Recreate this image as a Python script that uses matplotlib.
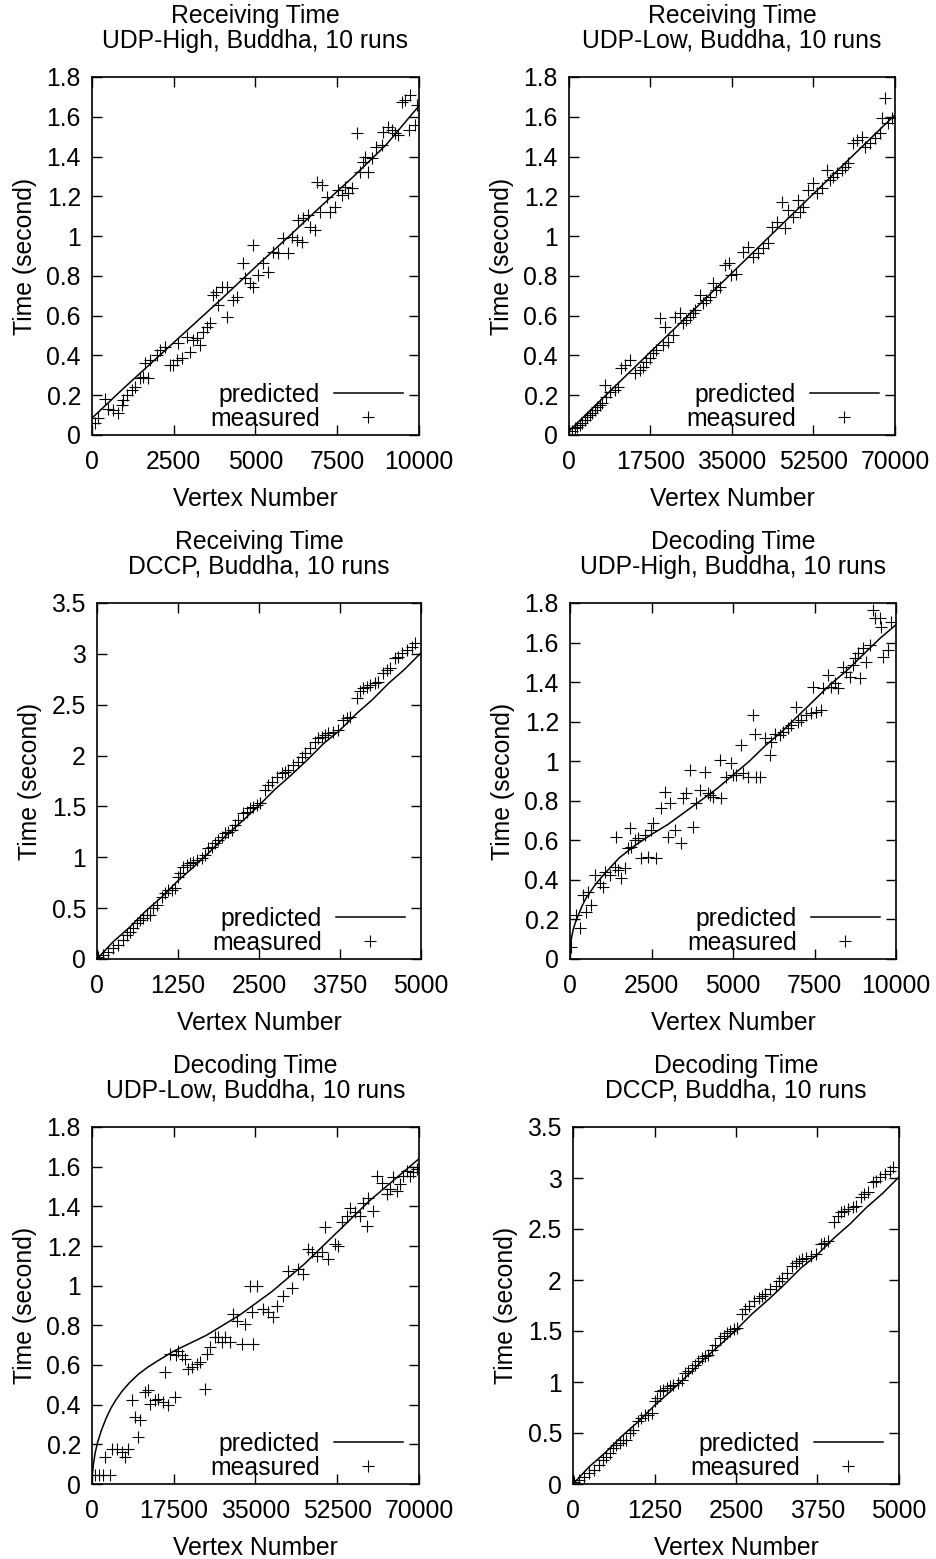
import matplotlib
matplotlib.use('Agg')
import matplotlib.pyplot as plt
import matplotlib.ticker as ticker
import numpy as np

plt.rcParams['font.family'] = ['Liberation Sans', 'DejaVu Sans']
FS = 17.8

# ---- Receiving time, UDP-High ----
recvHighX = [92, 193, 398, 500, 652, 805, 907, 958, 1060, 1213, 1315, 1468, 1570, 1621, 1723,
             1774, 1977, 2079, 2232, 2385, 2487, 2610, 2640, 2742, 2895, 2997, 3099, 3201, 3303,
             3405, 3507, 3609, 3711, 3793, 3864, 3966, 4119, 4139, 4323, 4425, 4629, 4680, 4833,
             4914, 4934, 5086, 5239, 5392, 5545, 5698, 5851, 6004, 6106, 6259, 6310, 6412, 6463,
             6616, 6667, 6820, 6871, 6973, 7024, 7177, 7279, 7432, 7534, 7636, 7738, 7840, 7942,
             8095, 8197, 8299, 8350, 8452, 8554, 8686, 8859, 8910, 9063, 9165, 9267, 9369, 9471,
             9573, 9706, 9726, 9879, 9930]
recvHighY = [0.059, 0.084, 0.18, 0.13, 0.126, 0.109, 0.150, 0.176, 0.201, 0.226, 0.243, 0.285,
             0.293, 0.360, 0.285, 0.377, 0.402, 0.427, 0.444, 0.352, 0.352, 0.377, 0.461, 0.385,
             0.494, 0.419, 0.477, 0.486, 0.452, 0.519, 0.545, 0.561, 0.704, 0.720, 0.653, 0.745,
             0.595, 0.745, 0.678, 0.695, 0.863, 0.788, 0.763, 0.955, 0.746, 0.804, 0.863, 0.821,
             0.922, 0.913, 0.989, 0.913, 0.997, 0.98, 1.081, 0.972, 1.089, 1.106, 1.047, 1.031,
             1.274, 1.123, 1.257, 1.198, 1.123, 1.148, 1.232, 1.207, 1.249, 1.215, 1.240, 1.517,
             1.324, 1.374, 1.399, 1.324, 1.391, 1.450, 1.458, 1.525, 1.55, 1.533, 1.517, 1.508,
             1.676, 1.684, 1.533, 1.709, 1.558, 1.66]
recvHighPredX = [0, 1000, 2000, 3000, 4000, 5000, 6000, 7000, 8000, 9000, 10000]
recvHighPredY = [0.085, 0.24, 0.39, 0.54, 0.69, 0.845, 0.995, 1.15, 1.30, 1.46, 1.655]

# ---- Receiving time, UDP-Low ----
recvLowX = [600, 1217, 1700, 2290, 2800, 3363, 3900, 4437, 5000, 5510, 6000, 6584, 7100, 7657,
            8016, 8731, 9805, 10520, 11237, 11950, 13030, 14100, 15170, 15890, 16600, 17320,
            18040, 18750, 19470, 20180, 20540, 21260, 22330, 22690, 23760, 24480, 25190, 25910,
            26620, 26980, 28050, 28770, 29480, 30200, 30910, 31630, 32350, 33420, 34280, 34850,
            35930, 37440, 38510, 39580, 40660, 41730, 42810, 43520, 44590, 45670, 46380, 47100,
            48170, 49240, 49600, 50320, 51390, 52460, 53180, 54250, 55330, 56040, 56760, 57480,
            58550, 59270, 59980, 61060, 61770, 62850, 63560, 64640, 65710, 66780, 67140, 67860,
            68570, 69290]
recvLowY = [0.02, 0.034, 0.04, 0.050, 0.06, 0.075, 0.09, 0.101, 0.11, 0.126, 0.14, 0.151, 0.16,
            0.251, 0.193, 0.218, 0.226, 0.243, 0.335, 0.352, 0.377, 0.310, 0.327, 0.344, 0.369,
            0.385, 0.41, 0.427, 0.587, 0.452, 0.545, 0.469, 0.503, 0.595, 0.612, 0.562, 0.578,
            0.595, 0.612, 0.628, 0.704, 0.662, 0.678, 0.695, 0.762, 0.729, 0.745, 0.855, 0.863,
            0.804, 0.812, 0.922, 0.947, 0.896, 0.913, 0.938, 0.963, 1.047, 1.072, 1.173, 1.04,
            1.131, 1.098, 1.182, 1.123, 1.148, 1.232, 1.265, 1.215, 1.240, 1.332, 1.282, 1.299,
            1.316, 1.332, 1.349, 1.366, 1.466, 1.483, 1.500, 1.450, 1.466, 1.492, 1.517, 1.592,
            1.693, 1.567, 1.592]
recvLowPredX = [0, 17500, 35000, 52500, 70000]
recvLowPredY = [0.02, 0.418, 0.815, 1.213, 1.61]

# ---- DCCP (receiving and decoding look the same) ----
dccpX = [21, 98, 175, 252, 329, 406, 458, 509, 561, 612, 664, 715, 766, 818, 869, 921, 998,
         1049, 1101, 1152, 1204, 1255, 1281, 1332, 1384, 1435, 1486, 1538, 1615, 1667, 1718,
         1769, 1821, 1872, 1924, 1975, 2027, 2078, 2129, 2181, 2258, 2309, 2361, 2412, 2464,
         2515, 2592, 2644, 2695, 2772, 2849, 2901, 2952, 3029, 3106, 3158, 3209, 3286, 3364,
         3415, 3467, 3518, 3569, 3646, 3724, 3801, 3852, 3904, 4006, 4058, 4109, 4161, 4212,
         4289, 4341, 4418, 4469, 4521, 4598, 4649, 4701, 4778, 4855, 4906]
dccpY = [0.023, 0.039, 0.072, 0.105, 0.138, 0.187, 0.236, 0.269, 0.302, 0.351, 0.384, 0.400,
         0.433, 0.433, 0.498, 0.531, 0.613, 0.646, 0.679, 0.679, 0.695, 0.810, 0.843, 0.908,
         0.925, 0.941, 0.957, 0.974, 0.990, 1.023, 1.088, 1.105, 1.138, 1.171, 1.203, 1.236,
         1.253, 1.269, 1.318, 1.367, 1.433, 1.449, 1.482, 1.498, 1.515, 1.531, 1.662, 1.711,
         1.744, 1.793, 1.826, 1.843, 1.859, 1.908, 1.941, 1.990, 2.023, 2.072, 2.138, 2.171,
         2.187, 2.204, 2.220, 2.236, 2.253, 2.351, 2.367, 2.384, 2.564, 2.630, 2.663, 2.679,
         2.695, 2.712, 2.728, 2.810, 2.843, 2.859, 2.958, 2.974, 3.007, 3.040, 3.072, 3.105]
dccpPredX = [0, 250, 500, 750, 1000, 1250, 1500, 1750, 2000, 2250, 2500, 2750, 3000, 3250, 3500,
             3750, 4000, 4250, 4500, 4750, 5000]
dccpPredY = [0.0, 0.17, 0.31, 0.47, 0.61, 0.77, 0.91, 1.06, 1.22, 1.36, 1.51, 1.67, 1.81, 1.96,
             2.12, 2.25, 2.41, 2.55, 2.71, 2.85, 3.01]

# ---- Decoding time, UDP-High ----
decHighX = [30, 194, 296, 399, 501, 552, 654, 757, 910, 1012, 1063, 1217, 1370, 1421, 1472,
            1574, 1676, 1779, 1830, 1881, 1983, 2086, 2188, 2290, 2392, 2494, 2545, 2648, 2801,
            2904, 3006, 3057, 3210, 3414, 3465, 3567, 3670, 3772, 3874, 3976, 4130, 4232, 4283,
            4385, 4590, 4641, 4795, 4948, 5000, 5101, 5250, 5306, 5460, 5613, 5664, 5700, 5818,
            5971, 6124, 6175, 6277, 6430, 6533, 6686, 6788, 6942, 6993, 7095, 7249, 7402, 7453,
            7555, 7709, 7760, 7913, 8015, 8118, 8220, 8373, 8476, 8578, 8680, 8732, 8834, 8885,
            8987, 9089, 9191, 9293, 9344, 9497, 9550, 9600, 9753, 9855]
decHighY = [0.06, 0.222, 0.155, 0.324, 0.239, 0.341, 0.273, 0.425, 0.383, 0.366, 0.442, 0.425,
            0.467, 0.618, 0.450, 0.408, 0.459, 0.559, 0.661, 0.567, 0.601, 0.610, 0.509, 0.627,
            0.517, 0.652, 0.686, 0.509, 0.762, 0.846, 0.618, 0.787, 0.652, 0.584, 0.812, 0.837,
            0.956, 0.668, 0.787, 0.854, 0.947, 0.837, 0.829, 0.820, 1.006, 0.812, 0.921, 0.989,
            0.930, 0.930, 1.082, 0.938, 0.921, 1.234, 1.140, 0.921, 0.921, 1.115, 1.031, 1.098,
            1.140, 1.132, 1.149, 1.166, 1.183, 1.276, 1.199, 1.208, 1.233, 1.242, 1.377, 1.250,
            1.259, 1.369, 1.436, 1.377, 1.394, 1.369, 1.478, 1.453, 1.427, 1.487, 1.520, 1.546,
            1.419, 1.571, 1.503, 1.588, 1.764, 1.722, 1.722, 1.680, 1.529, 1.562, 1.705]
decHighPredX = [0, 50, 100, 175, 250, 375, 500, 750, 1000, 1500, 2000, 2500, 3000, 3500, 4000,
                4500, 5000, 5500, 6000, 6500, 7000, 7500, 8000, 8500, 9000, 9500, 10000]
decHighPredY = [0.05, 0.11, 0.15, 0.19, 0.22, 0.27, 0.31, 0.37, 0.42, 0.51, 0.575, 0.63, 0.68,
                0.74, 0.80, 0.86, 0.93, 1.0, 1.08, 1.15, 1.23, 1.31, 1.39, 1.46, 1.54, 1.62, 1.69]

# ---- Decoding time, UDP-Low ----
decLowX = [642, 1570, 2427, 3854, 2784, 4210, 5280, 6350, 7067, 7780, 8495, 9210, 9920, 10280,
           11350, 12060, 12420, 13490, 14200, 15270, 15630, 16340, 16700, 17770, 17900, 18480,
           19190, 19910, 20620, 21340, 22410, 23120, 24190, 24550, 25260, 26330, 27050, 27760,
           28470, 29540, 30260, 30970, 32040, 32750, 33830, 34190, 34540, 35400, 36680, 37750,
           38820, 39540, 40960, 42000, 42800, 44160, 45250, 46320, 47030, 48100, 49170, 49880,
           50600, 52020, 52740, 53450, 54520, 55240, 56310, 57380, 58090, 58800, 59160, 60230,
           60940, 62010, 63080, 63800, 64510, 65230, 65940, 66650, 67370, 68080, 68800, 69510]
decLowY = [0.045, 0.045, 0.045, 0.045, 0.137, 0.178, 0.178, 0.162, 0.137, 0.178, 0.422, 0.338,
           0.238, 0.322, 0.464, 0.472, 0.405, 0.422, 0.43, 0.414, 0.565, 0.397, 0.657, 0.439,
           0.648, 0.673, 0.648, 0.632, 0.581, 0.589, 0.606, 0.615, 0.481, 0.657, 0.690, 0.741,
           0.741, 0.715, 0.741, 0.715, 0.858, 0.824, 0.707, 0.808, 1.0, 0.866, 0.707, 1.0, 0.882,
           0.866, 0.841, 0.899, 0.948, 1.076, 0.99, 1.084, 1.059, 1.185, 1.168, 1.151, 1.168,
           1.294, 1.134, 1.210, 1.201, 1.319, 1.352, 1.394, 1.369, 1.352, 1.419, 1.302, 1.444,
           1.377, 1.554, 1.520, 1.461, 1.486, 1.546, 1.478, 1.512, 1.554, 1.579, 1.554, 1.571,
           1.588]
decLowPredX = [0, 100, 300, 700, 1200, 2000, 3000, 4000, 5000, 6500, 8000, 10000, 12000, 14000,
               17500, 21000, 24500, 28000, 31500, 35000, 38500, 42000, 45500, 49000, 52500,
               56000, 59500, 63000, 66500, 70000]
decLowPredY = [0.0, 0.05, 0.1, 0.16, 0.21, 0.27, 0.33, 0.38, 0.42, 0.47, 0.51, 0.555, 0.59, 0.62,
               0.67, 0.71, 0.75, 0.80, 0.85, 0.91, 0.97, 1.04, 1.11, 1.19, 1.27, 1.35, 1.43,
               1.50, 1.57, 1.64]

titles = ['Receiving Time\nUDP-High, Buddha, 10 runs',
          'Receiving Time\nUDP-Low, Buddha, 10 runs',
          'Receiving Time\nDCCP, Buddha, 10 runs',
          'Decoding Time\nUDP-High, Buddha, 10 runs',
          'Decoding Time\nUDP-Low, Buddha, 10 runs',
          'Decoding Time\nDCCP, Buddha, 10 runs']
xTicks = [[0, 2500, 5000, 7500, 10000],
          [0, 17500, 35000, 52500, 70000],
          [0, 1250, 2500, 3750, 5000],
          [0, 2500, 5000, 7500, 10000],
          [0, 17500, 35000, 52500, 70000],
          [0, 1250, 2500, 3750, 5000]]
yTicks18 = [0, 0.2, 0.4, 0.6, 0.8, 1, 1.2, 1.4, 1.6, 1.8]
yTicks35 = [0, 0.5, 1, 1.5, 2, 2.5, 3, 3.5]

data = [(recvHighX, recvHighY, recvHighPredX, recvHighPredY, yTicks18),
        (recvLowX, recvLowY, recvLowPredX, recvLowPredY, yTicks18),
        (dccpX, dccpY, dccpPredX, dccpPredY, yTicks35),
        (decHighX, decHighY, decHighPredX, decHighPredY, yTicks18),
        (decLowX, decLowY, decLowPredX, decLowPredY, yTicks18),
        (dccpX, dccpY, dccpPredX, dccpPredY, yTicks35)]

# axes boxes in pixels: left, right, top, bottom
W, H = 937, 1559
boxes = [(92, 419, 77, 435), (569, 895, 77, 435),
         (97, 421, 603, 959), (570, 896, 603, 959),
         (92, 419, 1127, 1484), (573, 899, 1127, 1484)]

fig = plt.figure(figsize=(W / 100, H / 100), dpi=100)

for i in range(6):
    l, r, t, b = boxes[i]
    ax = fig.add_axes([l / W, 1 - b / H, (r - l) / W, (b - t) / H])
    mx, my, px, py, yt = data[i]
    ax.plot(px, py, '-', color='black', lw=1.1, label='predicted')
    ax.plot(mx, my, '+', color='black', ms=8, mew=0.8, label='measured')
    ax.set_xlim(0, xTicks[i][-1])
    ax.set_ylim(0, yt[-1])
    ax.set_xticks(xTicks[i])
    ax.set_yticks(yt)
    ax.xaxis.set_major_formatter(ticker.FormatStrFormatter('%g'))
    ax.yaxis.set_major_formatter(ticker.FormatStrFormatter('%g'))
    ax.tick_params(direction='in', length=7, width=1, top=True, right=True, labelsize=FS)
    ax.tick_params(axis='x', pad=11)
    ax.tick_params(axis='y', pad=8)
    for s in ax.spines.values():
        s.set_linewidth(1.2)
    ax.set_xlabel('Vertex Number', fontsize=FS, labelpad=9)
    ax.set_ylabel('Time (second)', fontsize=FS, labelpad=6.5)
    ax.set_title(titles[i], fontsize=FS, linespacing=1.05, pad=21)
    ax.legend(loc='lower right', frameon=False, markerfirst=False, fontsize=FS,
              handlelength=2.8, handletextpad=0.55, labelspacing=0.0,
              borderpad=0, borderaxespad=0,
              bbox_to_anchor=(1 - 16 / (r - l), 4 / (b - t)))

fig.savefig('out.png', dpi=100)
